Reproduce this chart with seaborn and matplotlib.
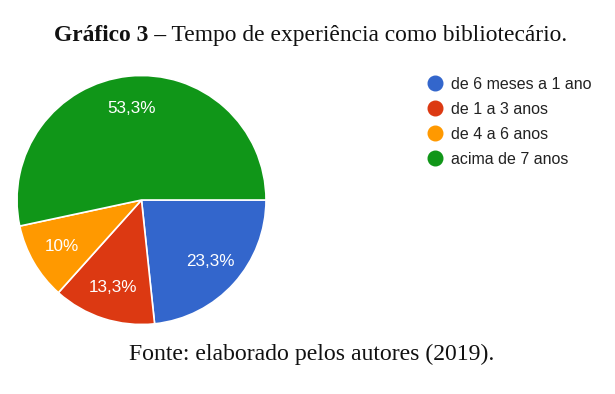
import matplotlib
matplotlib.use("Agg")
import matplotlib.pyplot as plt
from matplotlib.lines import Line2D
import seaborn as sns

categorias = ['de 6 meses a 1 ano', 'de 1 a 3 anos', 'de 4 a 6 anos', 'acima de 7 anos']
percentuais = [23.3, 13.3, 10.0, 53.3]
rotulos = ['23,3%', '13,3%', '10%', '53,3%']
cores = ['#3366cc', '#dc3912', '#ff9900', '#109618']

sns.set_theme(style="white")
plt.rcParams['font.family'] = ['Liberation Sans', 'DejaVu Sans']

W, H = 615, 394
fig = plt.figure(figsize=(W / 100, H / 100), dpi=100)

# pie: centre (141.5, 200) px, radius ~124.5 px
cx, cy, r = 141.5, 200, 124.5
ax = fig.add_axes([(cx - r) / W, (H - cy - r) / H, 2 * r / W, 2 * r / H])
wedges, textos = ax.pie(percentuais, colors=cores, startangle=0, counterclock=False,
                        labels=rotulos, labeldistance=0.74,
                        wedgeprops=dict(edgecolor='white', linewidth=1.2),
                        textprops=dict(color='white', fontsize=12.3, ha='center', va='center'))
ax.set_xlim(-1, 1)
ax.set_ylim(-1, 1)
ax.set_aspect('auto')
ax.axis('off')

# legend
handles = [Line2D([0], [0], marker='o', linestyle='', markersize=10.5,
                  markerfacecolor=c, markeredgecolor=c) for c in cores]
fig.legend(handles, categorias, loc='upper left', bbox_to_anchor=(417 / W, 1 - 69 / H),
           frameon=False, fontsize=11.5, labelcolor='#222222', handletextpad=0.4,
           labelspacing=0.62, borderpad=0, handlelength=1.2)

# title with bold prefix
serif = ['Liberation Serif', 'DejaVu Serif']
fig.canvas.draw()
renderer = fig.canvas.get_renderer()
t1 = fig.text(0, 1 - 41 / H, 'Gráfico 3 –', family=serif, fontsize=16.9, fontweight='bold',
              va='baseline', ha='left', color='#111111')
t2 = fig.text(0, 1 - 41 / H, ' Tempo de experiência como bibliotecário.', family=serif,
              fontsize=16.9, va='baseline', ha='left', color='#111111')
w1 = t1.get_window_extent(renderer).width
w2 = t2.get_window_extent(renderer).width
x0 = 311 - (w1 + w2) / 2
t1.set_x(x0 / W)
t2.set_x((x0 + w1) / W)

fig.text(311.5 / W, 1 - 360 / H, 'Fonte: elaborado pelos autores (2019).', family=serif,
         fontsize=17.1, va='baseline', ha='center', color='#111111')

fig.savefig('out.png', dpi=100)
